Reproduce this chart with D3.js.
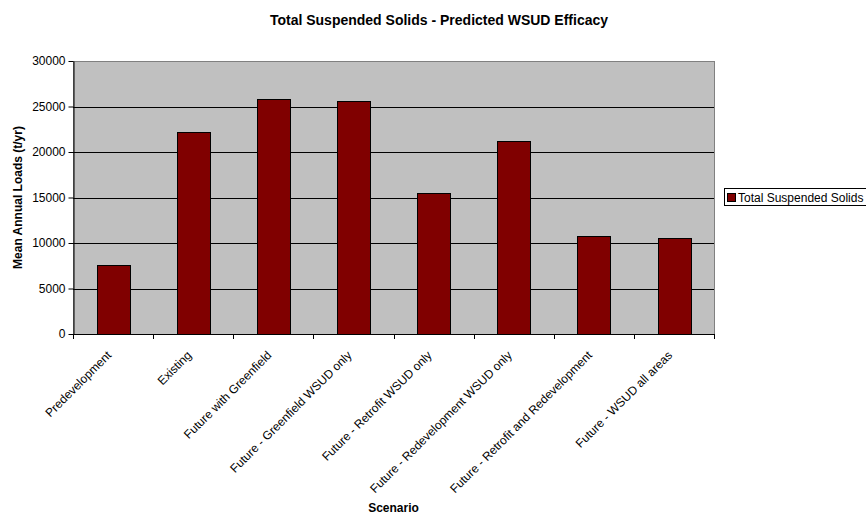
<!DOCTYPE html>
<html>
<head>
<meta charset="utf-8">
<script src="https://cdn.jsdelivr.net/npm/d3@7"></script>
<style>
  html, body { margin: 0; padding: 0; background: #fff; }
  svg text { font-family: "Liberation Sans", Arial, sans-serif; }
</style>
</head>
<body>
<svg id="chart" width="866" height="516"></svg>
<script>
// Scenario categories along the x axis
const scenarios = [
  "Predevelopment",
  "Existing",
  "Future with Greenfield",
  "Future - Greenfield WSUD only",
  "Future - Retrofit WSUD only",
  "Future - Redevelopment WSUD only",
  "Future - Retrofit and Redevelopment",
  "Future - WSUD all areas"
];
// Mean annual TSS loads (t/yr) per scenario
const tssLoads = [7600, 22200, 25800, 25600, 15500, 21200, 10800, 10550];
const yTicks = [0, 5000, 10000, 15000, 20000, 25000, 30000];
const seriesName = "Total Suspended Solids";

const svg = d3.select("#chart");
const m = { left: 73, right: 714, top: 61, bottom: 334 };

const x = d3.scaleBand().domain(scenarios).range([m.left, m.right]).paddingInner(0.59).paddingOuter(0.295);
const y = d3.scaleLinear().domain([0, 30000]).range([m.bottom, m.top]);

// plot background
svg.append("rect")
  .attr("x", m.left + 0.5).attr("y", m.top + 0.5)
  .attr("width", m.right - m.left).attr("height", m.bottom - m.top)
  .attr("fill", "#c0c0c0").attr("stroke", "#808080").attr("stroke-width", 1);

// horizontal gridlines
svg.append("g").selectAll("line").data(yTicks.filter(d => d > 0 && d < 30000)).join("line")
  .attr("x1", m.left).attr("x2", m.right)
  .attr("y1", d => Math.round(y(d)) + 0.5).attr("y2", d => Math.round(y(d)) + 0.5)
  .attr("stroke", "#000").attr("stroke-width", 1);

// bars
svg.append("g").selectAll("rect").data(tssLoads).join("rect")
  .attr("x", (d, i) => Math.round(x(scenarios[i])) + 0.5)
  .attr("width", Math.round(x.bandwidth()))
  .attr("y", d => Math.round(y(d)) + 0.5)
  .attr("height", d => Math.round(y(0)) - Math.round(y(d)))
  .attr("fill", "#800000").attr("stroke", "#000").attr("stroke-width", 1);

// y axis
const yAxis = d3.axisLeft(y).tickValues(yTicks).tickSize(5).tickSizeOuter(0).tickPadding(3).tickFormat(d3.format("d"));
const gy = svg.append("g").attr("transform", `translate(${m.left + 0.5},0)`).call(yAxis);
gy.selectAll("text").attr("font-size", 12).attr("fill", "#000").attr("font-family", "Liberation Sans, Arial, sans-serif");
gy.selectAll("line, path").attr("stroke", "#000");

// x axis: ticks at category boundaries
const step = (m.right - m.left) / scenarios.length;
const bounds = d3.range(scenarios.length + 1).map(i => m.left + i * step);
svg.append("line").attr("x1", m.left).attr("x2", m.right + 1)
  .attr("y1", m.bottom + 0.5).attr("y2", m.bottom + 0.5).attr("stroke", "#000");
svg.append("g").selectAll("line").data(bounds).join("line")
  .attr("x1", d => Math.round(d) + 0.5).attr("x2", d => Math.round(d) + 0.5)
  .attr("y1", m.bottom).attr("y2", m.bottom + 5).attr("stroke", "#000");

// rotated category labels
svg.append("g").selectAll("text").data(scenarios).join("text")
  .attr("transform", d => `translate(${x(d) + x.bandwidth() / 2 - 1},${m.bottom + 22}) rotate(-45)`)
  .attr("text-anchor", "end")
  .attr("font-size", 12)
  .attr("fill", "#000")
  .text(d => d);

// title
svg.append("text").attr("x", 439).attr("y", 25).attr("text-anchor", "middle")
  .attr("font-size", 14).attr("font-weight", "bold").text("Total Suspended Solids - Predicted WSUD Efficacy");

// axis titles
svg.append("text").attr("transform", `translate(22,${(m.top + m.bottom) / 2}) rotate(-90)`)
  .attr("text-anchor", "middle").attr("font-size", 12).attr("font-weight", "bold").text("Mean Annual Loads (t/yr)");
svg.append("text").attr("x", (m.left + m.right) / 2).attr("y", 512).attr("text-anchor", "middle")
  .attr("font-size", 12).attr("font-weight", "bold").text("Scenario");

// legend
const lg = svg.append("g").attr("transform", "translate(724,188)");
lg.append("rect").attr("x", 0.5).attr("y", 0.5).attr("width", 150).attr("height", 17)
  .attr("fill", "#fff").attr("stroke", "#000");
lg.append("rect").attr("x", 3.5).attr("y", 5.5).attr("width", 8).attr("height", 8)
  .attr("fill", "#800000").attr("stroke", "#000");
lg.append("text").attr("x", 14).attr("y", 14).attr("font-size", 12).text(seriesName);
</script>
</body>
</html>
